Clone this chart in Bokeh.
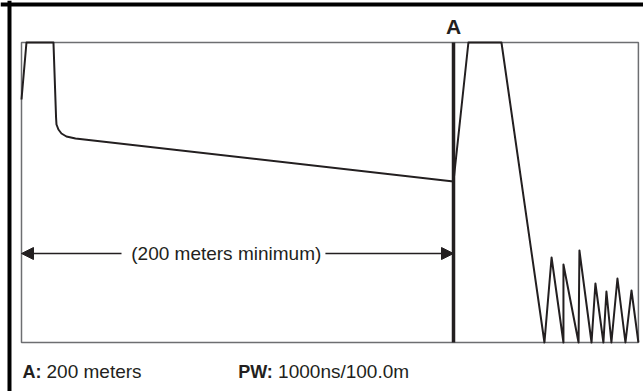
from bokeh.plotting import figure
from bokeh.models import Range1d, Span, Arrow, NormalHead
from bokeh.core.properties import value
from bokeh.embed import file_html
from bokeh.resources import INLINE

# OTDR trace: distance (m) vs relative level (dB, 0 = bottom of display)
trace_m = [0, 2.3, 14.8, 16.0, 16.2, 17.1, 18.5, 20.8, 25.0, 200.0, 206.9, 222.2,
           242.1, 245.4, 250.9, 250.9, 257.9, 258.3, 263.9, 265.7, 269.4, 270.8,
           273.1, 275.9, 279.6, 282.4, 285.6]
trace_db = [24.3, 30, 30, 22.5, 21.8, 21.3, 20.9, 20.6, 20.4, 16.1, 30, 30,
            0, 8.5, 0, 7.8, 0, 9.2, 0, 5.9, 0, 5.1, 0, 6.4, 0, 5.2, 0]

display_min_m, display_max_m = 0, 285.6
display_min_db, display_max_db = 0, 30
marker_a_m = 200
marker_label = "A"
span_label = "(200 meters minimum)"
info_a_key, info_a_val = "A:", "200 meters"
info_pw_key, info_pw_val = "PW:", "1000ns/100.0m"

INK = "#231f20"
FONT = value("Liberation Sans")

p = figure(width=643, height=391, output_backend="svg", toolbar_location=None,
           x_range=Range1d(-9.722, 287.96), y_range=Range1d(-4.9, 34.2),
           min_border=0, background_fill_color="white", border_fill_color="white")
p.axis.visible = False
p.grid.visible = False
p.outline_line_color = None

# outer frame (left + top)
p.add_layout(Span(location=-5.56, dimension="height", line_color="black", line_width=4))
p.add_layout(Span(location=33.8, dimension="width", line_color="black", line_width=4))

# display box
p.quad(left=[display_min_m], right=[display_max_m], bottom=[display_min_db], top=[display_max_db],
       fill_color=None, line_color="#6d6e71", line_width=1.5)

# trace
p.line(trace_m, trace_db, line_color=INK, line_width=2, line_join="round")

# marker A
p.segment(x0=[marker_a_m], y0=[display_min_db], x1=[marker_a_m], y1=[display_max_db],
          line_color=INK, line_width=3.5)
p.text(x=[marker_a_m], y=[31.6], text=[marker_label], text_font=FONT, text_font_size="21px",
       text_font_style="bold", text_align="center", text_baseline="middle", text_color=INK)

# dimension arrow
arrow_y = 8.9
text_mid = 94.8
p.text(x=[text_mid], y=[8.9], text=[span_label], text_font=FONT, text_font_size="19px",
       text_align="center", text_baseline="middle", text_color=INK)
p.add_layout(Arrow(end=NormalHead(size=12, fill_color=INK, line_color=INK),
                   x_start=46.3, y_start=arrow_y, x_end=display_min_m, y_end=arrow_y,
                   line_color=INK, line_width=1.5))
p.add_layout(Arrow(end=NormalHead(size=12, fill_color=INK, line_color=INK),
                   x_start=140.7, y_start=arrow_y, x_end=marker_a_m, y_end=arrow_y,
                   line_color=INK, line_width=1.5))

# info line
info_y = -2.9
p.text(x=[0.46], y=[info_y], text=[info_a_key], text_font=FONT, text_font_size="18px",
       text_font_style="bold", text_align="left", text_baseline="middle", text_color=INK)
p.text(x=[11.6], y=[info_y], text=[info_a_val], text_font=FONT, text_font_size="19px",
       text_align="left", text_baseline="middle", text_color=INK)
p.text(x=[100.3], y=[info_y], text=[info_pw_key], text_font=FONT, text_font_size="18px",
       text_font_style="bold", text_align="left", text_baseline="middle", text_color=INK)
p.text(x=[118.8], y=[info_y], text=[info_pw_val], text_font=FONT, text_font_size="19px",
       text_align="left", text_baseline="middle", text_color=INK)

open("out.html", "w").write(file_html(p, INLINE))
